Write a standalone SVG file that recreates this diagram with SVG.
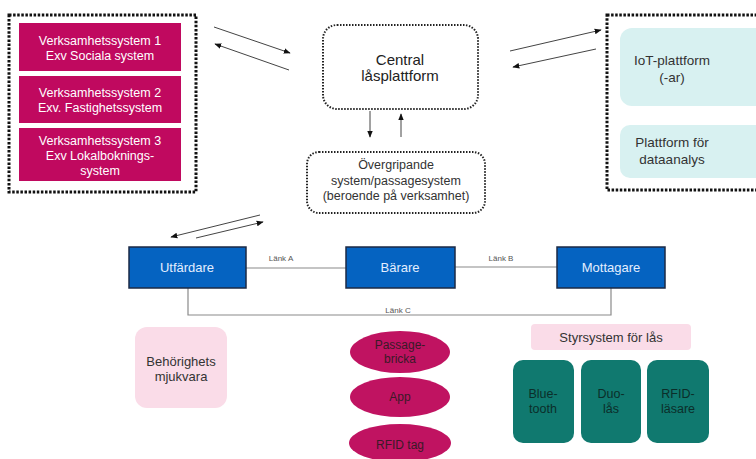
<svg xmlns="http://www.w3.org/2000/svg" width="756" height="459" viewBox="0 0 756 459">
<defs>
<marker id="ah" viewBox="0 0 10 10" refX="9" refY="5" markerWidth="7" markerHeight="7" orient="auto-start-reverse" markerUnits="userSpaceOnUse">
<path d="M0,1 L10,5 L0,9 Z" fill="#111"/>
</marker>
<style>
text{font-family:"Liberation Sans",Arial,sans-serif;text-anchor:middle}
.mag{fill:#C0095F}
.wt{fill:#fff;font-size:12.5px}
.dotbig{fill:none;stroke:#111;stroke-width:3;stroke-dasharray:2.5 1.6}
.dotsm{fill:none;stroke:#222;stroke-width:2;stroke-dasharray:1.5 1.5}
.cyan{fill:#D8F1F1}
.dk{fill:#333;font-size:13px}
.blue{fill:#0563C1;stroke:#1B2A45;stroke-width:1.5}
.bt{fill:#E3EEFF;font-size:13px}
.lnk{fill:none;stroke:#8a8a8a;stroke-width:1.2}
.lbl{fill:#555;font-size:8px}
.arr{stroke:#444;stroke-width:1;fill:none;marker-end:url(#ah)}
.ell{fill:#C01361}
.et{fill:#3a1a28;font-size:12px}
.teal{fill:#10796F}
.tt{fill:#0b2e2a;font-size:12.5px}
.pink{fill:#FADCE8}
</style>
</defs>

<g id="verksamhet-group">
<rect class="dotbig" x="9" y="15" width="187" height="177"/>
</g>
<g id="vs1">
<rect class="mag" x="19" y="23" width="162" height="48"/>
<text class="wt" x="100" y="45">Verksamhetssystem 1</text>
<text class="wt" x="100" y="60">Exv  Sociala system</text>
</g>
<g id="vs2">
<rect class="mag" x="19" y="76" width="162" height="47"/>
<text class="wt" x="100" y="97">Verksamhetssystem 2</text>
<text class="wt" x="100" y="112">Exv.  Fastighetssystem</text>
</g>
<g id="vs3">
<rect class="mag" x="19" y="128" width="162" height="53"/>
<text class="wt" x="100" y="145">Verksamhetssystem 3</text>
<text class="wt" x="100" y="160">Exv  Lokalboknings-</text>
<text class="wt" x="100" y="175">system</text>
</g>

<g id="central">
<rect class="dotsm" x="323" y="25" width="155" height="84" rx="14"/>
<text x="400" y="65" style="font-size:15px;fill:#222">Central</text>
<text x="400" y="81" style="font-size:15px;fill:#222">låsplattform</text>
</g>

<g id="overgripande">
<rect class="dotsm" x="307" y="152" width="178" height="61" rx="12"/>
<text class="dk" x="396" y="169" style="font-size:12.5px">Övergripande</text>
<text class="dk" x="396" y="185" style="font-size:12.5px">system/passagesystem</text>
<text class="dk" x="396" y="200" style="font-size:12.5px">(beroende på verksamhet)</text>
</g>

<g id="plattform-group">
<rect class="dotbig" x="607" y="15" width="160" height="175"/>
</g>
<g id="iot">
<rect class="cyan" x="620" y="28" width="150" height="78" rx="12"/>
<text class="dk" x="672" y="65" style="font-size:13.5px">IoT-plattform</text>
<text class="dk" x="672" y="82" style="font-size:13.5px">(-ar)</text>
</g>
<g id="dataanalys">
<rect class="cyan" x="620" y="125" width="150" height="53" rx="10"/>
<text class="dk" x="672" y="147" style="font-size:13.5px">Plattform för</text>
<text class="dk" x="672" y="164" style="font-size:13.5px">dataanalys</text>
</g>

<g id="connectors">
<line class="arr" x1="214" y1="27" x2="290" y2="53"/>
<line class="arr" x1="289" y1="70" x2="215" y2="44"/>
<line class="arr" x1="510" y1="51" x2="601" y2="30"/>
<line class="arr" x1="596" y1="49" x2="513" y2="67"/>
<line class="arr" x1="370" y1="111" x2="370" y2="137"/>
<line class="arr" x1="401" y1="137" x2="401" y2="114"/>
<line class="arr" x1="260" y1="215" x2="171" y2="237"/>
<line class="arr" x1="196" y1="238" x2="263" y2="222"/>
<line class="lnk" x1="246" y1="268" x2="346" y2="268"/>
<line class="lnk" x1="455" y1="267" x2="557" y2="267"/>
<polyline class="lnk" points="188,288 188,315 611,315 611,288"/>
<text class="lbl" x="281" y="261">Länk A</text>
<text class="lbl" x="501" y="261">Länk B</text>
<text class="lbl" x="398" y="313">Länk C</text>
</g>

<g id="utfardare">
<rect class="blue" x="129" y="247" width="117" height="41"/>
<text class="bt" x="187" y="272">Utfärdare</text>
</g>
<g id="barare">
<rect class="blue" x="346" y="247" width="109" height="41"/>
<text class="bt" x="400" y="272">Bärare</text>
</g>
<g id="mottagare">
<rect class="blue" x="557" y="247" width="108" height="41"/>
<text class="bt" x="611" y="272">Mottagare</text>
</g>

<g id="behorighet">
<rect class="pink" x="135" y="327" width="92" height="81" rx="12"/>
<text class="dk" x="181" y="366">Behörighets</text>
<text class="dk" x="181" y="381">mjukvara</text>
</g>

<g id="passagebricka">
<ellipse class="ell" cx="400" cy="352" rx="50" ry="21"/>
<text class="et" x="400" y="349">Passage-</text>
<text class="et" x="400" y="363">bricka</text>
</g>
<g id="app">
<ellipse class="ell" cx="400" cy="397" rx="50" ry="20"/>
<text class="et" x="400" y="401">App</text>
</g>
<g id="rfidtag">
<ellipse class="ell" cx="400" cy="443" rx="51" ry="19"/>
<text class="et" x="400" y="449">RFID tag</text>
</g>

<g id="styrsystem">
<rect class="pink" x="531" y="324" width="160" height="26" rx="4"/>
<text class="dk" x="611" y="342">Styrsystem för lås</text>
</g>
<g id="bluetooth">
<rect class="teal" x="513" y="360" width="61" height="83" rx="10"/>
<text class="tt" x="543" y="398">Blue-</text>
<text class="tt" x="543" y="413">tooth</text>
</g>
<g id="duolas">
<rect class="teal" x="581" y="360" width="60" height="83" rx="10"/>
<text class="tt" x="611" y="398">Duo-</text>
<text class="tt" x="611" y="413">lås</text>
</g>
<g id="rfidlasare">
<rect class="teal" x="647" y="360" width="62" height="83" rx="10"/>
<text class="tt" x="678" y="398">RFID-</text>
<text class="tt" x="678" y="413">läsare</text>
</g>
</svg>
